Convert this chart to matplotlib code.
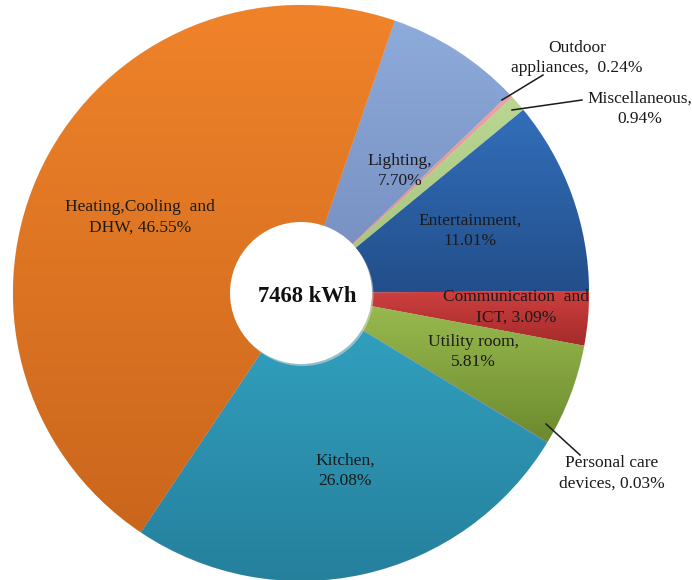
import matplotlib
matplotlib.use("Agg")
import matplotlib.pyplot as plt
import numpy as np
from matplotlib.colors import to_rgb
from matplotlib.patches import Circle

# ---- data ----
categories = ["Lighting", "Outdoor\nappliances", "Miscellaneous", "Entertainment",
              "Communication and\nICT", "Utility room", "Personal care\ndevices",
              "Kitchen", "Heating,Cooling and\nDHW"]
shares = [7.70, 0.24, 0.94, 11.01, 3.09, 5.81, 0.03, 26.08, 46.55]
label_texts = ["Lighting,\n7.70%", "Outdoor\nappliances,  0.24%", "Miscellaneous,\n0.94%",
               "Entertainment,\n11.01%", "Communication  and\nICT, 3.09%", "Utility room,\n5.81%",
               "Personal care\ndevices, 0.03%", "Kitchen,\n26.08%", "Heating,Cooling  and\nDHW, 46.55%"]
total_text = "7468 kWh"

# ---- style ----
W, H = 692, 580
top_cols = ["#8DABDB", "#EBA3A3", "#B9D792", "#326FBA", "#CC3F3E", "#9DBE52", "#7E5FA0", "#33A3C3", "#F0832A"]
bot_cols = ["#738CBE", "#D98C8C", "#A3C27C", "#234E8A", "#A52B2B", "#6C8A2E", "#6A4E88", "#25809C", "#CA661C"]

fig = plt.figure(figsize=(W / 100, H / 100), dpi=100)
ax = fig.add_axes([0, 0, 1, 1])

def P(x, y):
    return (x, H - y)

cx, cy = P(301, 293)
R = 288
wedges, _ = ax.pie(shares, startangle=71.0, counterclock=False, center=(cx, cy),
                   radius=R, colors=top_cols, wedgeprops=dict(linewidth=0.5, edgecolor="#eeeeee"),
                   frame=True)
ax.set_xlim(0, W)
ax.set_ylim(0, H)
ax.set_aspect("equal")
ax.axis("off")

# gradient fill per wedge
for w, ct, cb in zip(wedges, top_cols, bot_cols):
    ext = w.get_path().get_extents()
    t = np.array(to_rgb(ct)); b = np.array(to_rgb(cb))
    f = np.linspace(0, 1, 256)[:, None]
    grad = (t[None, :] * (1 - f) + b[None, :] * f)[:, None, :]
    im = ax.imshow(grad, extent=[ext.x0, ext.x1, ext.y0, ext.y1], origin="upper",
                   aspect="auto", zorder=w.get_zorder() + 0.01, interpolation="bilinear")
    im.set_clip_path(w)
ax.set_xlim(0, W); ax.set_ylim(0, H)

# hole
ax.add_patch(Circle((cx + 1.5, cy - 2), 71, facecolor="#d8d8d8", edgecolor="none", zorder=5, alpha=0.6))
ax.add_patch(Circle((cx, cy), 71, facecolor="white", edgecolor="none", zorder=6))
ax.text(*P(307.5, 296), total_text, ha="center", va="center", fontsize=16.3, fontweight="bold",
        family="Liberation Serif", color="#111111", zorder=7)

# labels
positions = [(400, 171), (577, 58), (640, 109), (470, 231), (516, 307), (473, 352),
             (612, 473), (345, 471), (140, 217)]
for txt, (x, y) in zip(label_texts, positions):
    ax.text(*P(x, y), txt, ha="center", va="center", fontsize=12.5, family="Liberation Serif",
            color="#1a1a1a", linespacing=1.38, zorder=8)

# leader lines
leaders = [((502, 100), (543, 75)), ((512, 110), (582, 100)), ((546, 424), (580, 455))]
for (x0, y0), (x1, y1) in leaders:
    ax.plot([x0, x1], [H - y0, H - y1], color="#1a1a1a", lw=1.1, zorder=8)

fig.savefig("out.png", dpi=100)
